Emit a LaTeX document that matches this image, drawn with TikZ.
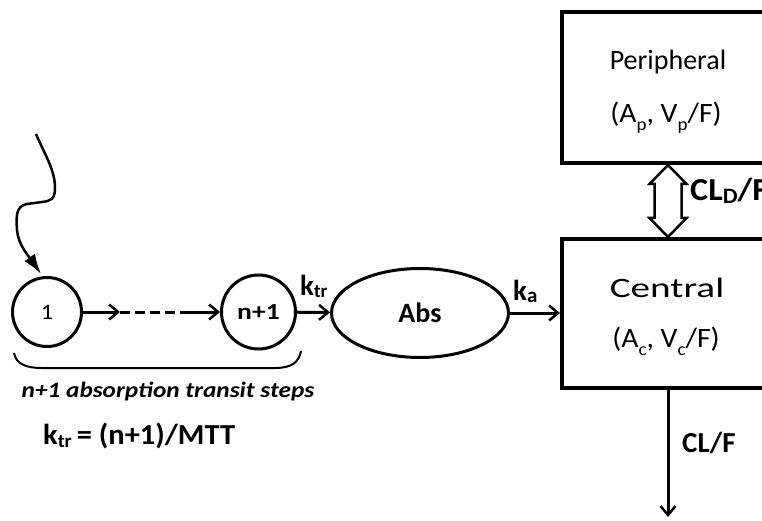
\documentclass[tikz,border=0pt]{standalone}
\usepackage{fontspec}
\setmainfont{Carlito}
\usetikzlibrary{arrows.meta,shapes.geometric,calc}
\newcommand\sbx[3]{\raisebox{-#1}{\fontsize{#2}{#2}\selectfont #3}}
\begin{document}
\begin{tikzpicture}[x=1pt,y=-1pt,
  ln/.style={line width=3pt},
  arr/.style={line width=3pt,-{Straight Barb[length=9pt,width=15pt,line width=2.5pt]}},
  circ/.style={circle,draw,line width=3pt,inner sep=0pt},
  box/.style={draw,line width=4pt,inner sep=0pt,minimum width=212pt},
  lbl/.style={inner sep=0pt,font=\bfseries\fontsize{29}{29}\selectfont},
  txt/.style={inner sep=0pt,font=\fontsize{28}{28}\selectfont}]
\useasboundingbox (0,0) rectangle (762,521);
\clip (0,0) rectangle (762,521);
% nodes
\node[circ,minimum size=69pt] (c1) at (47,312) {\fontsize{22}{22}\selectfont\scalebox{1.1}[1]{1}};
\node[circ,minimum size=74pt] (cn) at (258.5,312) {\bfseries\fontsize{23}{23}\selectfont\scalebox{1.2}[1]{n+1}};
\node[ellipse,draw,line width=3pt,minimum width=177pt,minimum height=89pt,inner sep=0pt,
      font=\bfseries\fontsize{28}{28}\selectfont] (abs) at (420,313) {Abs};
\node[box,minimum height=151pt] (peri) at (668,87.5) {};
\node[box,minimum height=149pt] (cen) at (668,313.5) {};
% box texts
\node[txt,anchor=base] (pt1) at (668,70) {Peripheral};
\node[txt,anchor=base] (pt2) at (666,123) {\scalebox{1.06}[1]{(A\sbx{8pt}{18}{p}, V\sbx{8pt}{18}{p}/F)}};
\node[txt,anchor=base] (ct1) at (667,297) {\scalebox{1.4}[1]{Central}};
\node[txt,anchor=base] (ct2) at (666,347) {\scalebox{1.06}[1]{(A\sbx{8pt}{18}{c}, V\sbx{8pt}{18}{c}/F)}};
% input wavy arrow
\coordinate (src) at (36,134);
\coordinate (inp) at (41,274);
\draw[line width=2.5pt,-{Latex[length=20pt,width=13pt]}] (src)
  .. controls (45,155) and (55,170) .. (55,188)
  .. controls (55,199) and (51,201) .. (42,202)
  -- (27,204)
  .. controls (16,206) and (16,216) .. (17,230)
  .. controls (18,245) and (30,258) .. (inp);
% transit chain
\coordinate (m1) at (120,312);
\coordinate (m2) at (180,312);
\draw[arr] (c1) -- (m1);
\draw[ln,dash pattern=on 10pt off 5pt] (m1) -- (m2);
\draw[arr] (m2) -- (cn);
\draw[arr] (cn) -- (abs);
\draw[arr] (abs.east) -- (abs.east -| cen.west);
% elimination
\coordinate (out) at (668,517);
\draw[arr] (cen.south) -- (out);
% double arrow between peripheral and central
\draw[line width=2.5pt,line join=miter] (peri.south) -- ++(18.5,19) -- ++(-5,0) -- ($(cen.north)+(13.5,-19)$)
  -- ++(5,0) -- (cen.north) -- ++(-18.5,-19) -- ++(5,0) -- ($(peri.south)+(-13.5,19)$) -- ++(-5,0) -- cycle;
% brace
\coordinate (b1) at (14,353);
\coordinate (b2) at (301,351);
\draw[line width=2pt] (b1) .. controls (16,364) and (26,368) .. (42,368) -- (275,368)
  .. controls (292,368) and (299,362) .. (b2);
% labels
\node[lbl,anchor=base west] (ktr) at (300,295) {k\sbx{2pt}{19}{tr}};
\node[lbl,anchor=base west] (ka) at (513,300) {k\sbx{2pt}{21}{a}};
\node[lbl,anchor=base west,font=\bfseries\fontsize{32}{32}\selectfont] (cld) at (690,201) {\scalebox{1.07}[1]{CL\sbx{3pt}{22}{D}/F}};
\node[lbl,anchor=base west] (clf) at (682,452) {CL/F};
\node[inner sep=0pt,anchor=base,font=\bfseries\itshape\fontsize{22}{22}\selectfont] (steps) at (168,397) {\scalebox{1.15}[1]{n+1 absorption transit steps}};
\node[lbl,anchor=base west] (form) at (43,444) {\scalebox{1.05}[1]{k\sbx{3pt}{19}{tr}\,= (n+1)/MTT}};
\end{tikzpicture}
\end{document}
